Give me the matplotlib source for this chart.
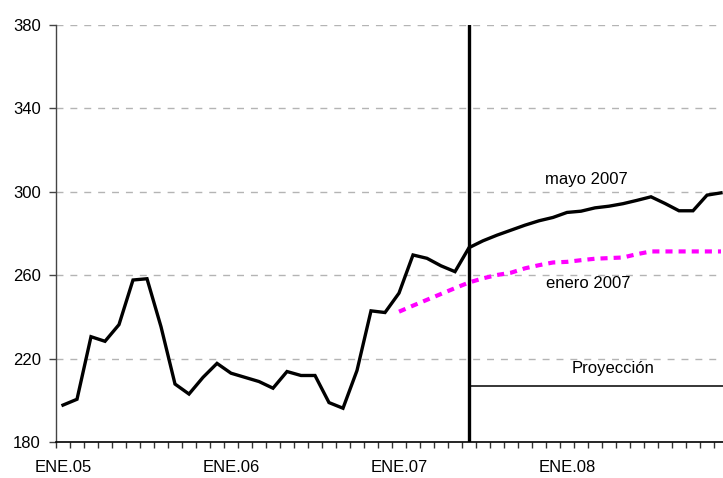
import matplotlib
matplotlib.use("Agg")
import matplotlib.pyplot as plt
import numpy as np

plt.rcParams['font.family'] = ['Liberation Sans', 'DejaVu Sans']

# Monthly series, Jan 2005 .. Dec 2008 (48 months)
tick_labels = ["ENE.05", "ENE.06", "ENE.07", "ENE.08"]
tick_index = [0, 12, 24, 36]

# historical (to Jun 2007) + projection of May 2007
mayo_2007 = [197.7, 200.5, 230.5, 228.3, 236.3, 257.7, 258.3, 235.3, 207.8, 203.0,
             211.0, 217.7, 213.0, 211.0, 209.0, 205.8, 213.8, 211.9, 211.9, 198.9,
             196.2, 214.3, 242.9, 242.1, 251.4, 269.7, 268.1, 264.5, 261.7, 273.2,
             276.5, 279.2, 281.6, 284.0, 286.1, 287.7, 290.1, 290.7, 292.3, 293.1,
             294.3, 295.9, 297.6, 294.4, 290.9, 290.9, 298.4, 299.5]
# projection of January 2007 (starts Jan 2007)
enero_start = 24
enero_2007 = [242.5, 245.4, 248.2, 251.0, 253.8, 256.5, 258.5, 260.1, 261.2, 263.3,
              264.8, 266.1, 266.4, 267.2, 267.9, 268.2, 268.5, 270.1, 271.4, 271.4,
              271.4, 271.4, 271.4, 271.4]

split_index = 29          # Jun 2007: start of projection
proj_level = 207.0
labels = {"mayo": ("mayo 2007", 37.4, 303.7),
          "enero": ("enero 2007", 37.5, 254.1),
          "proy": ("Proyección", 39.3, 213.2)}

W, H = 723, 478
fig = plt.figure(figsize=(W / 100, H / 100), dpi=100)
ax = fig.add_axes([56 / W, 36 / H, 672 / W, 417 / H])

x = np.arange(len(mayo_2007))
xe = np.arange(enero_start, enero_start + len(enero_2007))

# gridlines
for v in [220, 260, 300, 340, 380]:
    ax.axhline(v, color='#b4b4b4', lw=1.0, dashes=(5, 5), zorder=1)

ax.plot(xe, enero_2007, color='#ff00ff', lw=3.0, dashes=(1.7, 1.45),
        solid_capstyle='butt', dash_capstyle='butt', zorder=3)
ax.plot(x, mayo_2007, color='black', lw=2.4, solid_joinstyle='miter', zorder=4)

ax.axvline(split_index, color='black', lw=2.4, zorder=5)
ax.plot([split_index, len(mayo_2007) - 0.5], [proj_level, proj_level],
        color='black', lw=1.1, zorder=5)

for key, (txt, xx, yy) in labels.items():
    ax.text(xx, yy, txt, ha='center', va='baseline', fontsize=12, color='black')

ax.set_xlim(-0.5, len(mayo_2007) - 0.5)
ax.set_ylim(180, 380)

ax.set_yticks([180, 220, 260, 300, 340, 380])
ax.tick_params(axis='y', direction='out', length=5, width=1, pad=6,
               labelsize=12, color='#444444')

ax.set_xticks(np.arange(-0.5, len(mayo_2007), 1.0))
ax.set_xticklabels([])
ax.tick_params(axis='x', which='major', direction='out', length=4, width=1,
               color='#333333')
ax.set_xticks(tick_index, minor=True)
ax.set_xticklabels(tick_labels, minor=True)
ax.tick_params(axis='x', which='minor', length=0, pad=13, labelsize=12)

for s in ['top', 'right']:
    ax.spines[s].set_visible(False)
ax.spines['left'].set_color('#444444')
ax.spines['left'].set_linewidth(1.0)
ax.spines['bottom'].set_color('black')
ax.spines['bottom'].set_linewidth(1.2)

# title, mostly outside the visible canvas (only descenders show, as in the reference)
fig.text(390 / W, 1 + 2.5 / H, "(proyección de mayo y enero)", ha='center',
         va='baseline', fontsize=12)

fig.savefig("out.png", dpi=100)
